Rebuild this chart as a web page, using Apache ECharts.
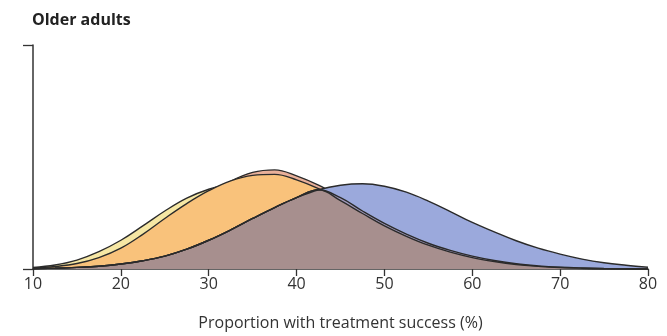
<!DOCTYPE html>
<html>
<head>
<meta charset="utf-8">
<script src="https://cdn.jsdelivr.net/npm/echarts@6/dist/echarts.min.js"></script>
<style>html,body{margin:0;padding:0;background:#fff;}#c{width:667px;height:336px;}</style>
</head>
<body>
<div id="c"></div>
<script>
// x positions (proportion with treatment success, %)
const xs = [10,12.5,15,17.5,20,22.5,25,27.5,30,32.5,35,37.5,40,42.5,45,47.5,50,52.5,55,57.5,60,62.5,65,67.5,70,72.5,75,77.5,80];
// curve heights (relative density)
const yellowVals = [1.5,4,9,17.5,29,43.5,58.5,71.5,80.5,86,88,86,80,71,60,48.5,37,27,19,12.5,8,5,3,1.7,0.9,0.5,0.2,0.1,0];
const pinkVals   = [0.8,1.9,4.1,8.2,15.2,25.8,40,57,74.6,88.5,97.5,100,94,84.5,72,58.5,46,35.2,26,18.8,13,8.6,5.3,3.2,1.8,1,0.5,0.25,0.1];
const orangeVals = [1,2.5,5.5,11.5,21,35,51,66,79,89,94.5,95.5,90,81,69,56,43.5,33,24,17,11.5,7.5,4.5,2.7,1.5,0.8,0.4,0.2,0.1];
const blueVals   = [0.3,0.8,1.6,2.8,5,8.3,13,20,29,39.5,51,62,72,80,84.5,86,83.5,77.5,68.5,58,47,37.5,28.5,21,15,10,6.3,3.8,1.8];
const xTicks = [10,20,30,40,50,60,70,80];

const pts = v => xs.map((x,i)=>[x,v[i]]);
const minArr = (a,b) => a.map((v,i)=>Math.min(v,b[i]));
const lineCol = '#2b2b2b';
const font = "'Open Sans', 'Noto Sans', sans-serif";
const SM = 0.4;

function area(name, vals, color, withLine, z){
  return {
    name, type:'line', data: pts(vals), smooth:SM, showSymbol:false, symbol:'none', z,
    areaStyle:{color, opacity:1},
    lineStyle: withLine ? {color:lineCol, width:1.4} : {width:0, opacity:0},
    silent:true, animation:false
  };
}
function line(name, vals, z){
  return {name, type:'line', data: pts(vals), smooth:SM, showSymbol:false, symbol:'none', z,
    lineStyle:{color:lineCol, width:1.4}, silent:true, animation:false};
}

const chart = echarts.init(document.getElementById('c'), null, {renderer:'canvas'});
chart.setOption({
  animation:false,
  title:{text:'Older adults', left:32, top:12, padding:0, textStyle:{fontFamily:font, fontSize:16, fontWeight:'bold', color:'#222'}},
  grid:{left:33, right:19, top:45, bottom:65, containLabel:false},
  xAxis:{type:'value', min:10, max:80, interval:10,
    name:'Proportion with treatment success (%)', nameLocation:'middle', nameGap:46,
    nameTextStyle:{fontFamily:font, fontSize:16, color:'#333'},
    axisLine:{lineStyle:{color:'#333', width:1.5}},
    axisTick:{length:7, lineStyle:{color:'#333', width:1.3}},
    axisLabel:{fontFamily:font, fontSize:16, color:'#333', margin:7,
      customValues: xTicks},
    splitLine:{show:false}},
  yAxis:{type:'value', min:0, max:226, interval:226,
    axisLine:{show:true, lineStyle:{color:'#333', width:1.5}},
    axisTick:{show:true, length:10, lineStyle:{color:'#333', width:1.3}},
    axisLabel:{show:false}, splitLine:{show:false}},
  series:[
    area('Yellow', yellowVals, '#f6e7a4', true, 1),
    area('Pink', pinkVals, '#e9b099', true, 2),
    area('Orange', orangeVals, '#f9c27b', true, 3),
    area('Blue', blueVals, '#9ba9dc', false, 4),
    area('BluePink', minArr(blueVals, pinkVals), '#a39cbf', false, 5),
    area('BlueOrange', minArr(blueVals, orangeVals), '#a78f8e', false, 6),
    line('BlueLine', blueVals, 7),
    line('BluePinkLine', minArr(blueVals, pinkVals), 8),
    line('BlueOrangeLine', minArr(blueVals, orangeVals), 9)
  ]
});
</script>
</body>
</html>
